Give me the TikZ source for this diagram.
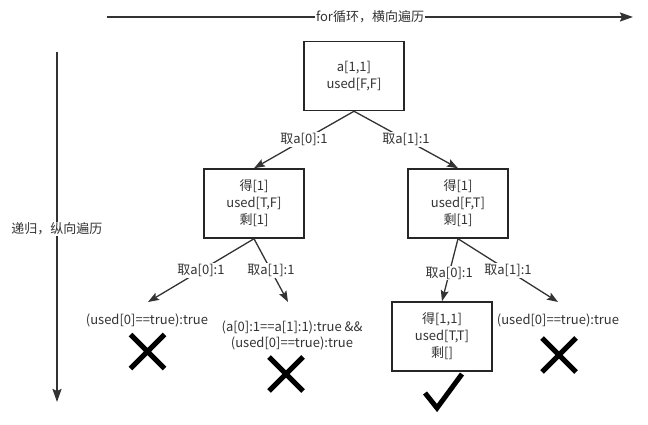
\documentclass[tikz,border=0pt]{standalone}
\usepackage{fontspec}
\setmainfont{Noto Sans CJK SC}
\usetikzlibrary{arrows.meta}

\tikzset{
  state/.style={draw=black!85, line width=1.5pt, minimum width=100pt, minimum height=69pt,
    align=center, text=black!80, font=\fontsize{13}{17}\selectfont},
  edge/.style={draw=black!80, line width=1.3pt, -{Stealth[length=11pt,width=8pt,inset=2pt]}},
  axis/.style={draw=black!80, line width=1.8pt, -{Stealth[length=13pt,width=9pt,inset=2pt]}},
  lbl/.style={fill=white, inner sep=1pt, text=black!80, font=\fontsize{13}{15}\selectfont},
  note/.style={inner sep=0pt, align=center, text=black!80, font=\fontsize{13}{16}\selectfont},
  cross/.pic={\draw[line width=5pt] (-17,-17) -- (17,17) (-17,17) -- (17,-17);}
}

\begin{document}
\begin{tikzpicture}[x=1pt,y=-1pt]
  \useasboundingbox (0,0) rectangle (648,425);
  % axes
  \coordinate (h0) at (107,17);
  \coordinate (h1) at (633,17);
  \coordinate (v0) at (57,52);
  \coordinate (v1) at (57,402);
  \draw[axis] (h0) -- node[lbl] {for循环，横向遍历} (h1);
  \draw[axis] (v0) -- node[lbl, pos=0.505] {递归，纵向遍历} (v1);
  % states
  \node[state] (root) at (354,76) {a[1,1]\\used[F,F]};
  \node[state] (left) at (254,203.5) {得[1]\\used[T,F]\\剩[1]};
  \node[state] (right) at (458,203.5) {得[1]\\used[F,T]\\剩[1]};
  \node[state] (leaf) at (442,336.5) {得[1,1]\\used[T,T]\\剩[]};
  % free ends
  \coordinate (e1) at (148,302);
  \coordinate (e2) at (288,302);
  \coordinate (e3) at (558,302);
  \draw[edge] (root.south) -- node[lbl] {取a[0]:1} (left.north);
  \draw[edge] (root.south) -- node[lbl] {取a[1]:1} (right.north);
  \draw[edge] (left.south) -- node[lbl] {取a[0]:1} (e1);
  \draw[edge] (left.south) -- node[lbl] {取a[1]:1} (e2);
  \draw[edge] (right.south) -- node[lbl, pos=0.55] {取a[0]:1} (leaf.north);
  \draw[edge] (right.south) -- node[lbl] {取a[1]:1} (e3);
  % results
  \node[note] (r1) at (147,320) {(used[0]==true):true};
  \node[note] (r2) at (292,335) {(a[0]:1==a[1]:1):true \&\&\\(used[0]==true):true};
  \node[note] (r3) at (558,320) {(used[0]==true):true};
  \pic at (147.5,351.5) {cross};
  \pic at (286,374) {cross};
  \pic at (559,355) {cross};
  \draw[line width=5pt] (425,393) -- (437,408) -- (462,374);
\end{tikzpicture}
\end{document}
